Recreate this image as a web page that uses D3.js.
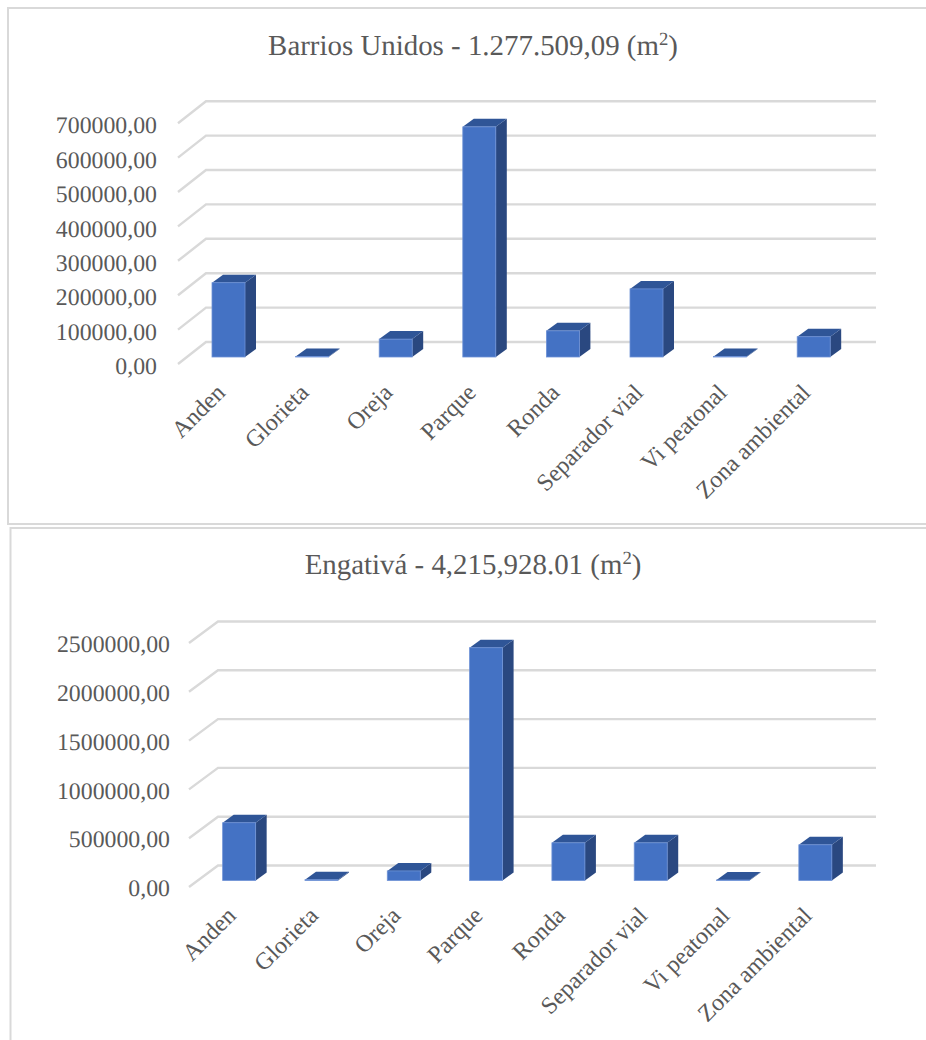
<!DOCTYPE html>
<html><head><meta charset="utf-8">
<script src="https://cdn.jsdelivr.net/npm/d3@7"></script>
<style>html,body{margin:0;padding:0;background:#fff}svg{display:block}text{font-family:"Liberation Serif",serif;fill:#595959;text-rendering:geometricPrecision}</style>
</head><body><svg id="c" width="926" height="1040"></svg>
<script>
const categories=["Anden","Glorieta","Oreja","Parque","Ronda","Separador vial","Vi peatonal","Zona ambiental"];
const valuesBarrios=[216000,1500,52000,669000,76000,198000,1500,59000];
const valuesEngativa=[592000,8000,98000,2385000,386000,386000,5000,366000];
const ticksBarrios=[0,100000,200000,300000,400000,500000,600000,700000];
const ticksEngativa=[0,500000,1000000,1500000,2000000,2500000];
const titleBarrios="Barrios Unidos - 1.277.509,09 (m";
const titleEngativa="Engativá - 4,215,928.01 (m";
const fmt=d3.formatLocale({decimal:",",thousands:"",grouping:[3],currency:["",""]}).format(".2f");
const svg=d3.select("#c");
const COL={front:"#4472C4",top:"#2F5597",side:"#2A4880",grid:"#D9D9D9",edge:"#6E92D6"};
function chart(o){
  const g=svg.append("g");
  g.append("rect").attr("x",o.frame[0]).attr("y",o.frame[1]).attr("width",o.frame[2]).attr("height",o.frame[3])
    .attr("fill","#fff").attr("stroke",COL.grid).attr("stroke-width",2);
  const t=g.append("text").attr("x",o.titleX).attr("y",o.titleY).attr("text-anchor","middle").style("font-size","28.9px").text(o.title);
  t.append("tspan").attr("dy",-10).style("font-size","18.7px").text("2");
  t.append("tspan").attr("dy",10).text(")");
  const y=d3.scaleLinear().domain([0,o.max]).range([o.y0,o.y1]);
  const x=d3.scaleBand().domain(categories).range([o.xa,o.xb]);
  const wallUp=o.wallUp, wallDown=o.wallDown;
  o.ticks.forEach(v=>{
    const yb=y(v)-wallUp, yf=y(v)+wallDown;
    g.append("polyline").attr("fill","none").attr("stroke",COL.grid).attr("stroke-width",2.4)
      .attr("points",[[o.gridFront,yf],[o.gridBack,yb],[o.gridEnd,yb]].map(p=>p.join(",")).join(" "));
  });
  const axis=g.append("g").attr("transform",`translate(${o.labelX},${o.y0+wallDown+o.labelDy})`)
    .call(d3.axisLeft(d3.scaleLinear().domain([0,o.max]).range([0,o.y1-o.y0])).tickValues(o.ticks).tickFormat(fmt).tickSize(0).tickPadding(0));
  axis.select(".domain").remove();
  axis.selectAll("text").style("font-size","23.8px").attr("font-family",null).attr("dy","0.32em");
  const bw=33,dx=11,dy=8;
  const pts=a=>a.map(p=>p.join(",")).join(" ");
  o.values.forEach((v,i)=>{
    const c=categories[i], xl=x(c)+x.bandwidth()/2-bw/2, xr=xl+bw, yt=y(v), yb=y(0);
    g.append("polygon").attr("points",pts([[xr,yt],[xr+dx,yt-dy],[xr+dx,yb-dy],[xr,yb]])).attr("fill",COL.side);
    g.append("polygon").attr("points",pts([[xl,yt],[xl+dx,yt-dy],[xr+dx,yt-dy],[xr,yt]])).attr("fill",COL.top);
    g.append("rect").attr("x",xl).attr("y",yt).attr("width",bw).attr("height",yb-yt).attr("fill",COL.front).attr("stroke",COL.edge).attr("stroke-width",0.8);
    g.append("text").attr("text-anchor","end").style("font-size","24px")
      .attr("transform",`translate(${x(c)+x.bandwidth()/2+o.catDx},${o.catY}) rotate(-45)`).text(c);
  });
}
chart({frame:[8,8,930,516],title:titleBarrios,titleX:473,titleY:55,max:700000,ticks:ticksBarrios,values:valuesBarrios,
  y0:357,y1:116.2,xa:186.7,xb:855.5,gridFront:178,gridBack:206,gridEnd:876,wallUp:15,wallDown:7,labelX:157,labelDy:2,catDx:-2,catY:394});
chart({frame:[10.5,528,930,520],title:titleEngativa,titleX:473,titleY:574,max:2500000,ticks:ticksEngativa,values:valuesEngativa,
  y0:880.5,y1:636.5,xa:198,xb:856.5,gridFront:189,gridBack:218,gridEnd:876,wallUp:15,wallDown:6.5,labelX:170,labelDy:1,catDx:-2,catY:917});
</script></body></html>
